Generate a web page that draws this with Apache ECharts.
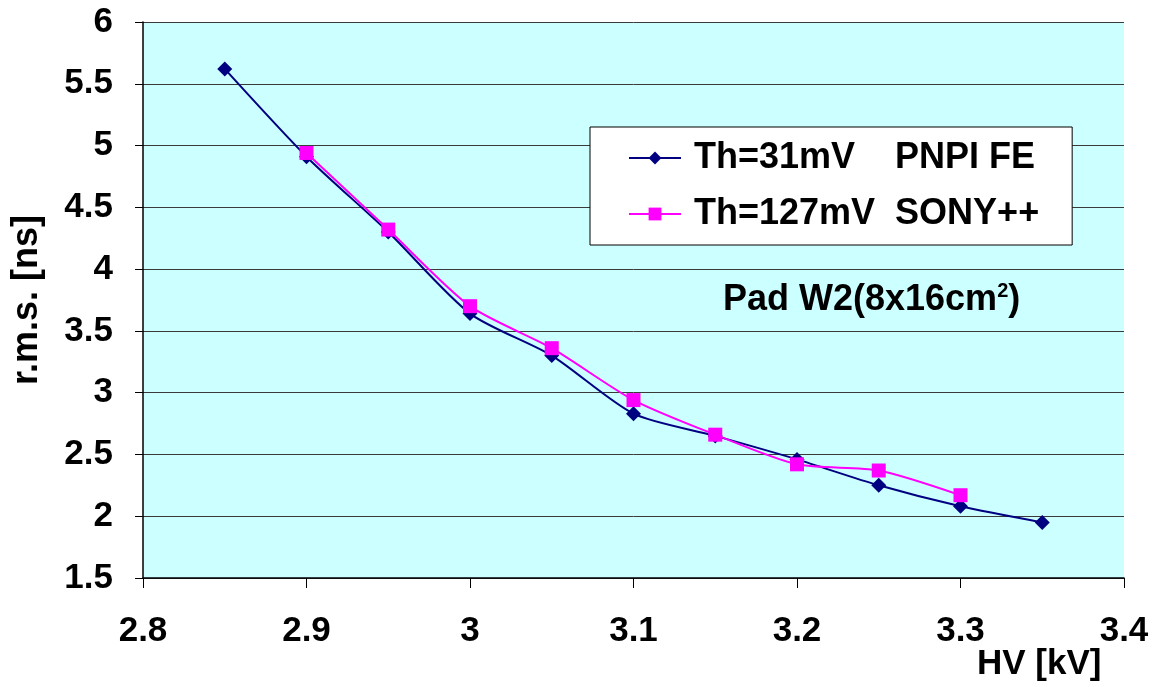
<!DOCTYPE html>
<html>
<head>
<meta charset="utf-8">
<script src="https://cdn.jsdelivr.net/npm/echarts@6/dist/echarts.min.js"></script>
<style>
  html, body { margin: 0; padding: 0; background: #ffffff; }
  #chart { width: 1155px; height: 687px; }
</style>
</head>
<body>
<div id="chart"></div>
<script>
// High voltage settings [kV] and measured time resolution r.m.s. [ns]
const hvPnpi = [2.85, 2.90, 2.95, 3.00, 3.05, 3.10, 3.15, 3.20, 3.25, 3.30, 3.35];
const rmsPnpi = [5.62, 4.91, 4.30, 3.64, 3.30, 2.83, 2.65, 2.46, 2.25, 2.08, 1.95];

const hvSony = [2.90, 2.95, 3.00, 3.05, 3.10, 3.15, 3.20, 3.25, 3.30];
const rmsSony = [4.94, 4.32, 3.70, 3.36, 2.94, 2.66, 2.42, 2.37, 2.17];

const seriesNames = ['Th=31mV    PNPI FE', 'Th=127mV  SONY++'];

const FONT = '"Liberation Sans", Arial, sans-serif';

const zip = (xs, ys) => xs.map((x, i) => [x, ys[i]]);

const chart = echarts.init(document.getElementById('chart'));

chart.setOption({
  backgroundColor: '#ffffff',
  animation: false,
  grid: {
    left: 143, right: 31, top: 22, bottom: 109,
    containLabel: false,
    outerBoundsMode: 'none',
    show: true,
    backgroundColor: '#CCFFFF',
    borderWidth: 0
  },
  xAxis: {
    type: 'value',
    min: 2.8, max: 3.4, interval: 0.1,
    axisLine: { show: true, onZero: false, lineStyle: { color: '#000', width: 1.5 } },
    axisTick: { show: true, length: 10, lineStyle: { color: '#000' } },
    axisLabel: {
      margin: 36,
      color: '#000',
      fontFamily: FONT, fontWeight: 'bold', fontSize: 35
    },
    splitLine: { show: false }
  },
  yAxis: {
    type: 'value',
    min: 1.5, max: 6, interval: 0.5,
    name: 'r.m.s. [ns]',
    nameLocation: 'middle',
    nameGap: 98,
    nameTextStyle: { color: '#000', fontFamily: FONT, fontWeight: 'bold', fontSize: 36 },
    axisLine: { show: true, onZero: false, lineStyle: { color: '#000', width: 1.5 } },
    axisTick: { show: true, length: 8, lineStyle: { color: '#000' } },
    axisLabel: {
      margin: 30,
      color: '#000',
      fontFamily: FONT, fontWeight: 'bold', fontSize: 35
    },
    splitLine: { show: true, lineStyle: { color: '#3a3a3a', width: 1 } }
  },
  legend: {
    orient: 'vertical',
    left: 590, top: 127,
    padding: [13, 33, 13, 38],
    itemGap: 20,
    itemWidth: 52,
    itemHeight: 16,
    backgroundColor: '#ffffff',
    borderColor: '#000',
    borderWidth: 1,
    textStyle: { color: '#000', fontFamily: FONT, fontWeight: 'bold', fontSize: 36, padding: [0, 0, 0, 8] },
    data: seriesNames
  },
  series: [
    {
      name: seriesNames[0],
      type: 'line',
      smooth: 0.25,
      data: zip(hvPnpi, rmsPnpi),
      symbol: 'diamond',
      symbolSize: 15,
      lineStyle: { color: '#000080', width: 2 },
      itemStyle: { color: '#000080' },
      z: 3
    },
    {
      name: seriesNames[1],
      type: 'line',
      smooth: 0.25,
      data: zip(hvSony, rmsSony),
      symbol: 'rect',
      symbolSize: 14,
      lineStyle: { color: '#FF00FF', width: 2 },
      itemStyle: { color: '#FF00FF' },
      z: 4
    }
  ],
  graphic: [
    {
      type: 'text',
      left: 723, top: 281,
      style: {
        text: '{t|Pad W2(8x16cm}{s|2}{t|)}',
        rich: {
          t: { fontFamily: FONT, fontWeight: 'bold', fontSize: 36, fill: '#000' },
          s: { fontFamily: FONT, fontWeight: 'bold', fontSize: 20, fill: '#000', verticalAlign: 'top', padding: [0, 0, 18, 0] }
        }
      }
    },
    {
      type: 'text',
      left: 977, top: 647,
      style: {
        text: 'HV [kV]',
        fontFamily: FONT, fontWeight: 'bold', fontSize: 35, fill: '#000'
      }
    }
  ]
});
</script>
</body>
</html>
